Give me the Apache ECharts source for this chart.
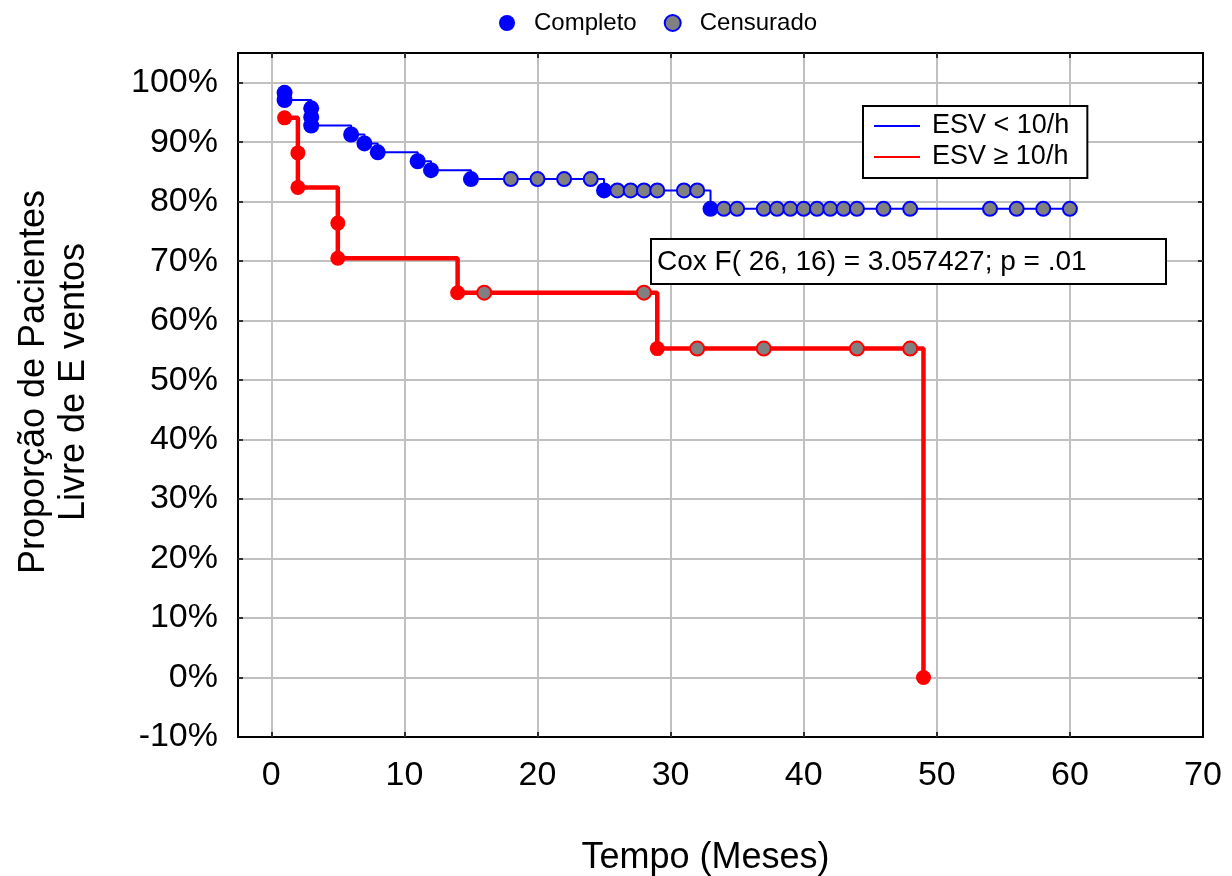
<!DOCTYPE html>
<html>
<head>
<meta charset="utf-8">
<title>Proporção de pacientes livre de eventos</title>
<script src="https://cdn.jsdelivr.net/npm/echarts@6/dist/echarts.min.js"></script>
<style>
html,body{margin:0;padding:0;background:#fff;}
#chart{width:1232px;height:876px;}
</style>
</head>
<body>
<div id="chart"></div>
<script>
// ESV < 10/h
var blueEventTime = [1, 1, 3, 3, 3, 6, 7, 8, 11, 12, 15, 25, 33];
var blueEventSurv = [98.3, 97.1, 95.7, 94.2, 92.8, 91.3, 89.8, 88.3, 86.8, 85.3, 83.8, 81.9, 78.8];
var blueCensTime = [18, 20, 22, 24, 26, 27, 28, 29, 31, 32, 34, 35, 37, 38, 39, 40, 41, 42, 43, 44, 46, 48, 54, 56, 58, 60];
var blueCensSurv = [83.8, 83.8, 83.8, 83.8, 81.9, 81.9, 81.9, 81.9, 81.9, 81.9,
  78.8, 78.8, 78.8, 78.8, 78.8, 78.8, 78.8, 78.8, 78.8, 78.8, 78.8, 78.8, 78.8, 78.8, 78.8, 78.8];
// ESV >= 10/h
var redEventTime = [1, 2, 2, 5, 5, 14, 29, 49];
var redEventSurv = [94.1, 88.2, 82.4, 76.4, 70.5, 64.7, 55.3, 0];
var redCensTime = [16, 28, 32, 37, 44, 48];
var redCensSurv = [64.7, 64.7, 55.3, 55.3, 55.3, 55.3];

var coxText = 'Cox F( 26, 16) = 3.057427; p = .01';
var FONT = '"Liberation Sans", Arial, sans-serif';

function pairs(t, s) {
  return t.map(function (x, i) { return [x, s[i]]; });
}
// step curve through events and censored points, in time order
function curve(evT, evS, ceT, ceS) {
  var pts = pairs(evT, evS).concat(pairs(ceT, ceS));
  pts.sort(function (a, b) { return a[0] - b[0] || b[1] - a[1]; });
  return pts;
}

var tick = { show: true, inside: true, length: 5, lineStyle: { color: '#000', width: 1.5 } };

var chart = echarts.init(document.getElementById('chart'));
var option = {
  animation: false,
  textStyle: { fontFamily: FONT },
  grid: {
    left: 238, right: 29, top: 53, bottom: 139,
    outerBoundsMode: 'none',
    show: true, borderColor: '#000', borderWidth: 2, backgroundColor: '#fff'
  },
  legend: [{
    left: 499, top: 11, padding: 0,
    itemWidth: 44, itemHeight: 16, itemGap: 27,
    textStyle: { fontSize: 24, color: '#000', fontFamily: FONT },
    data: [
      { name: 'Completo', icon: 'circle', itemStyle: { color: '#0000ff' } },
      { name: 'Censurado', icon: 'circle', itemStyle: { color: '#808080', borderColor: '#0000ff', borderWidth: 2 } }
    ]
  }, {
    orient: 'vertical', left: 863, top: 106,
    padding: [6, 18, 7, 10],
    backgroundColor: '#fff', borderColor: '#000', borderWidth: 2, borderRadius: 0,
    itemWidth: 46, itemHeight: 14, itemGap: 3,
    itemStyle: { color: 'rgba(0,0,0,0)', borderWidth: 0, opacity: 0 },
    textStyle: { fontSize: 27, lineHeight: 28, color: '#000', fontFamily: FONT, padding: [0, 0, 0, 7] },
    data: ['ESV < 10/h', 'ESV ≥ 10/h']
  }],
  xAxis: [{
    type: 'value', min: -2.5, max: 70, splitNumber: 7,
    name: 'Tempo (Meses)', nameLocation: 'middle', nameGap: 103,
    nameTextStyle: { fontSize: 36, color: '#000', fontFamily: FONT, padding: [0, 30, 0, 0] },
    axisLine: { show: false, onZero: false },
    axisTick: tick,
    axisLabel: { showMinLabel: false, fontSize: 34, color: '#000', margin: 22, fontFamily: FONT },
    splitLine: { show: true, showMinLine: false, showMaxLine: false, lineStyle: { color: '#c0c0c0', width: 2 } }
  }, {
    type: 'value', position: 'top', min: -2.5, max: 70, splitNumber: 7,
    axisLine: { show: false, onZero: false },
    axisTick: tick,
    axisLabel: { show: false },
    splitLine: { show: false }
  }],
  yAxis: [{
    type: 'value', min: -10, max: 105, interval: 10,
    name: 'Proporção de Pacientes\nLivre de E ventos',
    nameLocation: 'middle', nameRotate: 90, nameGap: 144,
    nameTextStyle: { fontSize: 36, lineHeight: 40, color: '#000', fontFamily: FONT, padding: [0, 0, 0, 26] },
    axisLine: { show: false, onZero: false },
    axisTick: tick,
    axisLabel: {
      showMaxLabel: false, fontSize: 34, color: '#000', margin: 20, fontFamily: FONT,
      formatter: function (v) { return v + '%'; }
    },
    splitLine: { show: true, showMinLine: false, showMaxLine: false, lineStyle: { color: '#c0c0c0', width: 2 } }
  }, {
    type: 'value', position: 'right', min: -10, max: 105, interval: 10,
    axisLine: { show: false, onZero: false },
    axisTick: tick,
    axisLabel: { show: false },
    splitLine: { show: false }
  }],
  series: [{
    name: 'ESV < 10/h', type: 'line', step: 'end', symbol: 'none', z: 2,
    data: curve(blueEventTime, blueEventSurv, blueCensTime, blueCensSurv),
    lineStyle: { color: '#0000ff', width: 2 },
    itemStyle: { color: '#0000ff' }
  }, {
    name: 'ESV ≥ 10/h', type: 'line', step: 'end', symbol: 'none', z: 2,
    data: curve(redEventTime, redEventSurv, redCensTime, redCensSurv),
    lineStyle: { color: '#ff0000', width: 4.5 },
    itemStyle: { color: '#ff0000' }
  }, {
    name: 'Completo', type: 'scatter', symbol: 'circle', symbolSize: 16, z: 3,
    data: pairs(blueEventTime, blueEventSurv),
    itemStyle: { color: '#0000ff', opacity: 1 }
  }, {
    name: 'Censurado', type: 'scatter', symbol: 'circle', symbolSize: 14, z: 3,
    data: pairs(blueCensTime, blueCensSurv),
    itemStyle: { color: '#808080', borderColor: '#0000ff', borderWidth: 2, opacity: 1 }
  }, {
    name: 'Completo (ESV ≥ 10/h)', type: 'scatter', symbol: 'circle', symbolSize: 15, z: 3,
    data: pairs(redEventTime, redEventSurv),
    itemStyle: { color: '#ff0000', opacity: 1 }
  }, {
    name: 'Censurado (ESV ≥ 10/h)', type: 'scatter', symbol: 'circle', symbolSize: 14, z: 3,
    data: pairs(redCensTime, redCensSurv),
    itemStyle: { color: '#808080', borderColor: '#ff0000', borderWidth: 2, opacity: 1 }
  }],
  graphic: [{
    type: 'rect', left: 650, top: 238, z: 100,
    shape: { width: 515, height: 45 },
    style: { fill: '#fff', stroke: '#000', lineWidth: 2 }
  }, {
    type: 'text', left: 657, top: 248, z: 101,
    style: { text: coxText, fontSize: 28, fontFamily: FONT, fill: '#000' }
  }]
};
chart.setOption(option);
</script>
</body>
</html>
